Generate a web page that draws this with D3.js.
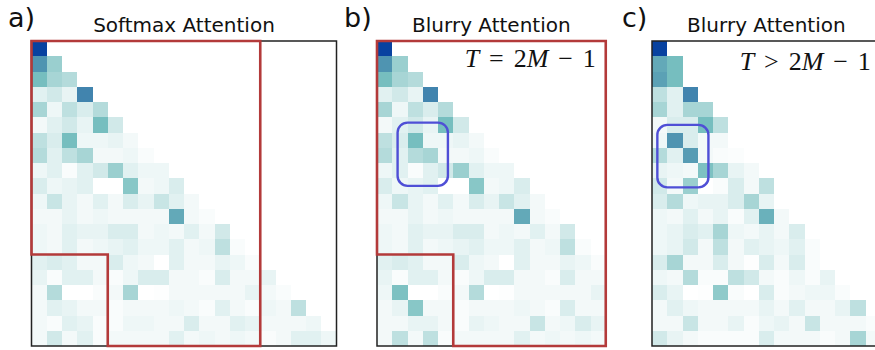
<!DOCTYPE html>
<html>
<head>
<meta charset="utf-8">
<script src="https://cdn.jsdelivr.net/npm/d3@7"></script>
<style>
	body { margin: 0; background: #fff; }
	svg { display: block; }
</style>
</head>
<body>
<div id="chart"></div>
<script>

// Attention weights, as colour levels 0 (white) .. 9 (dark blue)
// One inner array per query row, one value per key column
var softmaxRows = [
	[9],
	[8, 6],
	[7, 5.5, 5],
	[2.5, 3.5, 2, 8.2],
	[5.5, 1.5, 4.5, 3, 5],
	[1, 2.5, 3.5, 2, 7, 3.5],
	[4.5, 3, 7, 1.5, 1.5, 2, 1],
	[5, 2.5, 4.5, 5.5, 1, 1, 1.5, 0.5],
	[1.5, 2.5, 0.5, 2.5, 3.5, 6, 2.5, 1.5, 1.5],
	[3, 1.5, 2, 2.5, 0, 0, 6.5, 1, 1.5, 3],
	[1.5, 4, 2, 1, 2.5, 1, 3, 2, 4, 2.5, 1],
	[1, 1, 2, 1, 1.5, 1, 1, 1, 1, 7.5, 1, 0.5],
	[1.5, 1, 2.5, 2, 2, 3, 3, 1, 1.5, 1, 2.5, 1, 3.5],
	[1.5, 1, 2.5, 1, 1.5, 2, 2.5, 1.5, 1.5, 2.5, 1, 1.5, 4.5, 0.5],
	[2.5, 3, 2.5, 1, 1, 3, 1.5, 1, 0, 2.5, 1, 1, 2, 1.5, 0.5],
	[2, 0.5, 2.5, 2.5, 1, 0.5, 1.5, 3, 3, 1, 1, 0.5, 3, 1, 1, 2],
	[1, 5, 0, 0, 0.5, 1, 5.5, 0, 0.2, 1, 1, 1, 1, 1, 2, 1, 0.5],
	[1, 2.5, 2, 1, 1, 0.5, 1, 1, 1, 1.5, 1, 0.5, 2.5, 1, 0.5, 1.5, 1, 4.5],
	[1, 0.5, 2.5, 2, 0.5, 0.5, 1.5, 1.5, 1, 1, 3, 1, 1, 2.5, 2, 1, 1, 1, 1.5],
	[1, 3.5, 1, 2.5, 0.5, 1, 1, 1, 1, 2.5, 1, 1.5, 1, 1.5, 1, 0.5, 1, 2.5, 2.5, 1.5]
];

var blurryRowsB = [
	[9],
	[8, 6],
	[7, 5.5, 5],
	[2.5, 3.5, 2, 8.2],
	[5.5, 1.5, 4.5, 3, 5],
	[1, 2.5, 3.5, 2, 7, 3.5],
	[4.5, 3, 7, 1.5, 1.5, 2, 1],
	[5, 2.5, 5, 5.5, 1, 1, 1.5, 0.5],
	[1.5, 2.5, 0.5, 2.5, 3.5, 6, 2.5, 1.5, 1.5],
	[3, 1.5, 2, 2.5, 0, 0, 6.5, 1, 1.5, 3],
	[1.5, 4, 2, 1, 2.5, 1, 3, 2, 4, 2.5, 1],
	[1, 1, 2, 1, 1.5, 1, 1, 1, 1, 7.5, 1, 0.5],
	[1.5, 1, 2.5, 2, 2, 3, 3, 1, 1.5, 1, 2.5, 1, 3.5],
	[1.5, 1, 2.5, 1, 1.5, 2, 2.5, 1.5, 1.5, 2.5, 1, 1.5, 4.5, 0.5],
	[2.5, 3, 2.5, 1, 1, 3, 1.5, 1, 0, 2.5, 1, 1, 2, 1.5, 0.5],
	[2, 0.5, 2.5, 2.5, 1, 0.5, 1.5, 3, 3, 1, 1, 0.5, 3, 1, 1],
	[1.5, 6.8, 0, 0, 0.5, 1, 5, 0, 0.2, 1, 1, 1, 1, 1, 2],
	[1, 2, 6.5, 1, 1, 0.5, 1, 1, 1, 1.5, 1, 0.5, 3, 1, 1],
	[1, 1, 2, 2, 1, 0.5, 2, 1.5, 1, 1, 4, 1, 1.5, 3, 2],
	[1, 4.5, 1, 4.5, 0.5, 1, 1, 1, 1, 2.5, 1, 1.5, 1, 1.5, 1]
];

var blurryRowsC = [
	[9],
	[7.5, 7],
	[7.7, 7],
	[4.5, 2.5, 8.2],
	[5.5, 2.5, 5.5, 5.5],
	[1, 3, 3, 7, 4.5],
	[1.5, 8, 3, 1, 1],
	[5, 2.5, 7.8, 1, 0.5, 0.3],
	[2, 1.5, 1, 6.8, 5.5, 2, 1],
	[3.5, 1, 6, 0, 0.5, 3, 1, 4.5],
	[3, 5, 1.5, 2, 2, 3, 5.5, 2],
	[1.5, 1, 2.5, 1, 2, 0.5, 2.5, 7.3, 1],
	[1.5, 2, 3, 2.5, 5.5, 1.5, 1, 2, 1, 3],
	[1.5, 2, 3.5, 1, 4.5, 1, 2.5, 2, 1.5, 2.5, 0.5],
	[3, 5.5, 1, 1, 3, 1, 0.2, 3, 1, 3, 0.5],
	[1.5, 1, 5, 0.5, 0.5, 4.5, 3.5, 1, 0.5, 1.5, 0.5, 2],
	[3, 2, 0, 0.2, 6.3, 0.5, 0, 3, 0.5, 1, 1.5, 1.5, 0.5],
	[1, 2.5, 1.5, 1, 1, 1, 1, 2, 1, 2.5, 1, 1, 2, 4.5],
	[1, 1, 4, 1, 1, 2, 0.5, 1.5, 2, 1, 4, 1, 1, 1, 0.5],
	[3.5, 2, 1, 0.5, 0.5, 0.5, 0.5, 3, 1, 1, 1, 0.5, 1, 5.5, 1]
];

var panelTitles = ["Softmax Attention", "Blurry Attention", "Blurry Attention"];
var panelLabels = ["a)", "b)", "c)"];
var panelFormulas = [null, "T = 2M − 1", "T > 2M − 1"];

// Colour ramp for the levels
var levelColors = ["#ffffff", "#f3f9f9", "#e8f4f4", "#d9eded", "#c8e5e5",
	"#b4dbdb", "#9acfcf", "#76bebf", "#4f94b1", "#0842a0"];

var color = d3.scaleLinear()
	.domain(d3.range(levelColors.length))
	.range(levelColors)
	.interpolate(d3.interpolateRgb);

var cell = 15.25,
	gridTop = 41,
	nRows = 20;

var svg = d3.select("#chart").append("svg")
	.attr("width", 875)
	.attr("height", 350);

var attentionPanel = {

	draw: function(config) {
		var rows = config.rows,
			left = config.left,
			nCols = config.cols;

		var x = d3.scaleLinear().domain([0, nCols]).range([left, left + nCols * cell]),
			y = d3.scaleLinear().domain([0, nRows]).range([gridTop, gridTop + nRows * cell]);

		var g = svg.append("g");

		// one rect per (row, col) weight
		var cells = [];
		rows.forEach(function(row, r) {
			row.forEach(function(v, c) { cells.push({r: r, c: c, v: v}); });
		});

		g.selectAll("rect.cell")
			.data(cells)
			.enter().append("rect")
			.attr("class", "cell")
			.attr("x", function(d) { return x(d.c); })
			.attr("y", function(d) { return y(d.r); })
			.attr("width", function(d) { return x(d.c + 1) - x(d.c); })
			.attr("height", function(d) { return y(d.r + 1) - y(d.r); })
			.attr("fill", function(d) { return color(d.v); })
			.attr("shape-rendering", "crispEdges");

		// axes frame
		g.append("rect")
			.attr("x", x(0))
			.attr("y", y(0))
			.attr("width", x(nCols) - x(0))
			.attr("height", y(nRows) - y(0))
			.attr("fill", "none")
			.attr("stroke", "#222")
			.attr("stroke-width", 1.5);

		// red outline of the attended region
		if (config.outline) {
			var line = d3.line()
				.x(function(p) { return x(p[0]); })
				.y(function(p) { return y(p[1]); });
			g.append("path")
				.attr("d", line(config.outline) + "Z")
				.attr("fill", "none")
				.attr("stroke", "#b33a3a")
				.attr("stroke-width", 2.6)
				.attr("stroke-linejoin", "miter");
		}

		// blue rounded box
		if (config.box) {
			var b = config.box;
			g.append("rect")
				.attr("x", x(b[0]))
				.attr("y", y(b[1]))
				.attr("width", x(b[2]) - x(b[0]))
				.attr("height", y(b[3]) - y(b[1]))
				.attr("rx", 10)
				.attr("fill", "none")
				.attr("stroke", "#4f4fd6")
				.attr("stroke-width", 2.4);
		}

		// title and panel letter
		g.append("text")
			.attr("x", (x(0) + x(nCols)) / 2)
			.attr("y", 31.5)
			.attr("text-anchor", "middle")
			.style("font-family", "DejaVu Sans")
			.style("font-size", "20px")
			.style("fill", "#111")
			.text(config.title);

		g.append("text")
			.attr("x", config.labelX)
			.attr("y", 27)
			.style("font-family", "DejaVu Sans")
			.style("font-size", "27px")
			.style("fill", "#111")
			.text(config.label);

		// formula, capital letters in italic
		if (config.formula) {
			var t = g.append("text")
				.attr("x", x(nCols) - 10)
				.attr("y", config.formulaY)
				.attr("text-anchor", "end")
				.style("font-family", "Liberation Serif")
				.style("font-size", "26px")
				.style("fill", "#111");
			config.formula.split(" ").forEach(function(tok, i) {
				tok.split("").forEach(function(ch, j) {
					t.append("tspan")
						.attr("dx", (i > 0 && j == 0) ? "0.38em" : null)
						.style("font-style", /[A-Z]/.test(ch) ? "italic" : "normal")
						.text(ch);
				});
			});
		}
	}
};

var regionOutline = [[0, 0], [15, 0], [15, 20], [5, 20], [5, 14], [0, 14]];

attentionPanel.draw({
	rows: softmaxRows, left: 31.5, cols: 20,
	title: panelTitles[0], label: panelLabels[0], labelX: 8,
	outline: regionOutline
});

attentionPanel.draw({
	rows: blurryRowsB, left: 377, cols: 15,
	title: panelTitles[1], label: panelLabels[1], labelX: 344,
	outline: regionOutline,
	box: [1.35, 5.35, 4.65, 9.5],
	formula: panelFormulas[1], formulaY: 67
});

attentionPanel.draw({
	rows: blurryRowsC, left: 652, cols: 15,
	title: panelTitles[2], label: panelLabels[2], labelX: 622,
	box: [0.35, 5.5, 3.7, 9.6],
	formula: panelFormulas[2], formulaY: 70
});

</script>
</body>
</html>
